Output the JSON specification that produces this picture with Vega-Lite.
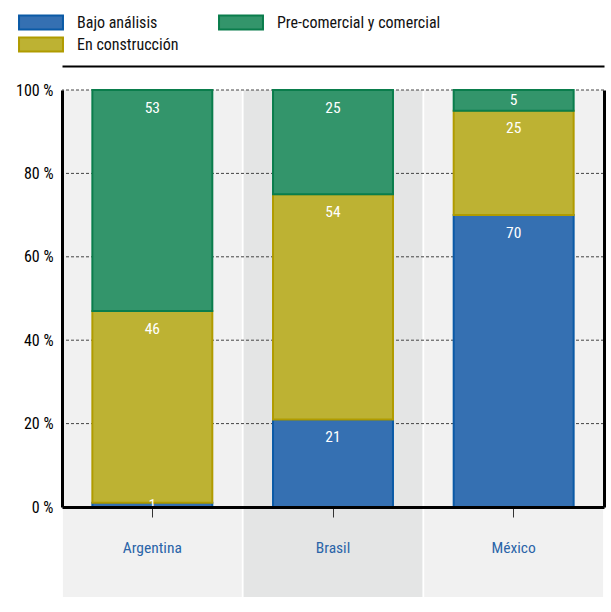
{
  "$schema": "https://vega.github.io/schema/vega-lite/v6.json",
  "width": 542,
  "height": 417,
  "autosize": "none",
  "padding": {"left": 62, "top": 90, "right": 7, "bottom": 105},
  "background": "white",
  "config": {
    "view": {"stroke": null},
    "font": "Roboto Condensed, DejaVu Sans Condensed, Liberation Sans Narrow, Roboto, sans-serif"
  },
  "datasets": {
    "fondo": [
      {"pais": "Argentina"},
      {"pais": "Brasil"},
      {"pais": "México"}
    ],
    "rejilla": [
      {"v": 20}, {"v": 40}, {"v": 60}, {"v": 80}, {"v": 100}
    ],
    "datos": [
      {"pais": "Argentina", "estado": "Bajo análisis", "valor": 1},
      {"pais": "Argentina", "estado": "En construcción", "valor": 46},
      {"pais": "Argentina", "estado": "Pre-comercial y comercial", "valor": 53},
      {"pais": "Brasil", "estado": "Bajo análisis", "valor": 21},
      {"pais": "Brasil", "estado": "En construcción", "valor": 54},
      {"pais": "Brasil", "estado": "Pre-comercial y comercial", "valor": 25},
      {"pais": "México", "estado": "Bajo análisis", "valor": 70},
      {"pais": "México", "estado": "En construcción", "valor": 25},
      {"pais": "México", "estado": "Pre-comercial y comercial", "valor": 5}
    ]
  },
  "resolve": {"axis": {"x": "independent", "y": "independent"}},
  "layer": [
    {
      "data": {"name": "fondo"},
      "mark": {"type": "bar", "width": {"band": 0.99}},
      "encoding": {
        "x": {"field": "pais", "type": "nominal", "scale": {"domain": ["Argentina", "Brasil", "México"], "paddingInner": 0, "paddingOuter": 0}, "axis": null},
        "y": {"datum": 100, "type": "quantitative", "scale": {"domain": [0, 100], "nice": false, "zero": false}, "axis": null},
        "y2": {"datum": -21.6},
        "fill": {"condition": {"test": "datum.pais === 'Brasil'", "value": "#e4e5e5"}, "value": "#f1f1f1"}
      }
    },
    {
      "data": {"name": "rejilla"},
      "mark": {"type": "rule", "color": "#444444", "strokeWidth": 1, "strokeDash": [3, 2]},
      "encoding": {
        "y": {"field": "v", "type": "quantitative", "axis": {"orient": "right", "labels": false, "ticks": false, "tickSize": 0, "grid": false, "title": null, "domainColor": "black", "domainWidth": 3, "zindex": 1}}
      }
    },
    {
      "data": {"name": "datos"},
      "transform": [
        {"calculate": "indexof(['Bajo análisis','En construcción','Pre-comercial y comercial'], datum.estado)", "as": "orden"},
        {"stack": "valor", "groupby": ["pais"], "sort": [{"field": "orden"}], "as": ["v0", "v1"]}
      ],
      "mark": {"type": "bar", "width": {"band": 0.664}, "strokeWidth": 2},
      "encoding": {
        "x": {"field": "pais", "type": "nominal", "axis": {"orient": "bottom", "title": null, "labelAngle": 0, "labelColor": "#2a64a8", "labelFontSize": 15.5, "labelPadding": 23, "tickSize": 10, "tickColor": "#333333", "tickWidth": 1, "domainColor": "black", "domainWidth": 3, "grid": false, "zindex": 1}},
        "y": {"field": "v1", "type": "quantitative", "axis": {"orient": "left", "title": null, "values": [0, 20, 40, 60, 80, 100], "labelExpr": "datum.value + ' %'", "labelFontSize": 16, "labelColor": "black", "labelPadding": 9, "ticks": false, "tickSize": 0, "grid": false, "domainColor": "black", "domainWidth": 3, "zindex": 1}},
        "y2": {"field": "v0"},
        "color": {
          "field": "estado", "type": "nominal",
          "scale": {"domain": ["Bajo análisis", "En construcción", "Pre-comercial y comercial"], "range": ["#3570b2", "#bdb233", "#33956b"]},
          "legend": {"title": null, "orient": "none", "legendX": -29, "legendY": -75.5, "columns": 2, "columnPadding": 36, "rowPadding": 0, "padding": 0, "symbolType": "M-3.14,-1H3.14V1H-3.14Z", "symbolSize": 196, "symbolStrokeWidth": 2, "symbolOpacity": 1, "labelFontSize": 16, "labelColor": "#111111", "labelOffset": 28, "labelLimit": 300}
        },
        "stroke": {
          "field": "estado", "type": "nominal",
          "scale": {"domain": ["Bajo análisis", "En construcción", "Pre-comercial y comercial"], "range": ["#0b5aa6", "#b09b00", "#0a7d4c"]},
          "legend": {"title": null, "orient": "none", "legendX": -29, "legendY": -75.5, "columns": 2, "columnPadding": 36, "rowPadding": 0, "padding": 0, "symbolType": "M-3.14,-1H3.14V1H-3.14Z", "symbolSize": 196, "symbolStrokeWidth": 2, "symbolOpacity": 1, "labelFontSize": 16, "labelColor": "#111111", "labelOffset": 28, "labelLimit": 300}
        }
      }
    },
    {
      "data": {"name": "datos"},
      "transform": [
        {"calculate": "indexof(['Bajo análisis','En construcción','Pre-comercial y comercial'], datum.estado)", "as": "orden"},
        {"stack": "valor", "groupby": ["pais"], "sort": [{"field": "orden"}], "as": ["v0", "v1"]},
        {"calculate": "max(datum.v1 - 4.2, (datum.v0 + datum.v1) / 2)", "as": "pos"}
      ],
      "mark": {"type": "text", "color": "white", "fontSize": 15.5, "baseline": "middle", "align": "center"},
      "encoding": {
        "x": {"field": "pais", "type": "nominal", "axis": {"orient": "top", "offset": 24, "title": null, "labels": false, "ticks": false, "grid": false, "domainColor": "black", "domainWidth": 2, "zindex": 1}},
        "y": {"field": "pos", "type": "quantitative", "axis": null},
        "text": {"field": "valor", "type": "quantitative"}
      }
    }
  ]
}
